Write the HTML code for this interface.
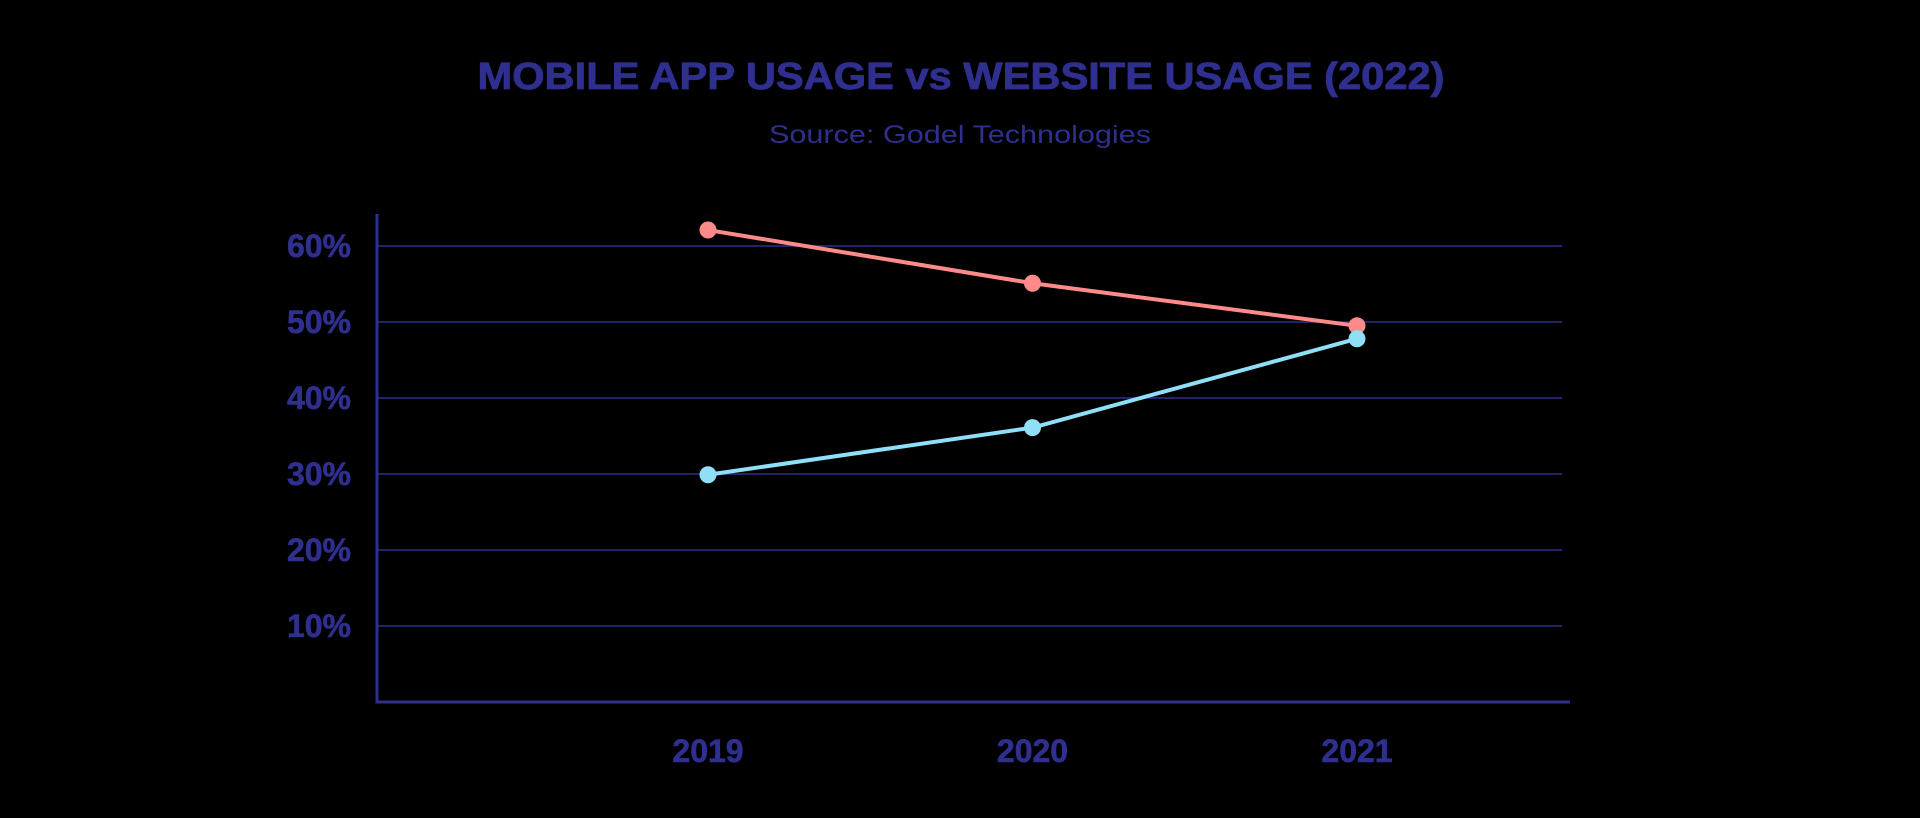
<!DOCTYPE html>
<html><head><meta charset="utf-8"><style>
html,body{margin:0;padding:0;background:#000;}
svg{display:block;}
text{font-family:"Liberation Sans",sans-serif;fill:#2f2f8f;}
</style></head><body>
<svg id="chart" width="1920" height="818" viewBox="0 0 1920 818" xmlns="http://www.w3.org/2000/svg">
<rect width="1920" height="818" fill="#000"/>
<text x="961" y="89" text-anchor="middle" font-size="38" font-weight="bold" textLength="967" lengthAdjust="spacingAndGlyphs" stroke="#2f2f8f" stroke-width="0.8">MOBILE APP USAGE vs WEBSITE USAGE (2022)</text>
<text x="960" y="143" text-anchor="middle" font-size="25" textLength="382" lengthAdjust="spacingAndGlyphs">Source: Godel Technologies</text>
<g id="grid"></g><g id="axes"></g><g id="series"></g>
</svg>
<script>
const categories = ["2019","2020","2021"];
const mobileApp = [62.1, 55.1, 49.5];
const website = [29.9, 36.1, 47.8];
const yTicks = [10,20,30,40,50,60];
const yTickLabels = ["10%","20%","30%","40%","50%","60%"];

const NS="http://www.w3.org/2000/svg";
const x0=377, x1=1570, yZero=702, pxPerUnit=7.6;
const xFirst=708, xLast=1357;
function xScale(i){return xFirst+(xLast-xFirst)*i/(categories.length-1);}
function yScale(v){return yZero-v*pxPerUnit;}
function mk(tag,attrs,parent){const e=document.createElementNS(NS,tag);for(const k in attrs)e.setAttribute(k,attrs[k]);parent.appendChild(e);return e;}
const grid=document.getElementById('grid'),axes=document.getElementById('axes'),series=document.getElementById('series');
yTicks.forEach((t,i)=>{
  const l=mk('line',{x1:x0,x2:1562,y1:yScale(t),y2:yScale(t),stroke:'#2f2f8f','stroke-width':1.6},grid);
  
  
  const tx=mk('text',{x:351,y:yScale(t)+11,'text-anchor':'end','font-size':32,'font-weight':'bold',stroke:'#2f2f8f','stroke-width':0.6},axes);
  tx.textContent=yTickLabels[i];
  
  
});
const ya=mk('line',{x1:x0,x2:x0,y1:214,y2:yZero+1.5,stroke:'#2f2f8f','stroke-width':3},axes);


const xa=mk('line',{x1:x0-1.5,x2:x1,y1:yZero,y2:yZero,stroke:'#2f2f8f','stroke-width':3},axes);


categories.forEach((c,i)=>{
  const tx=mk('text',{x:xScale(i),y:762,'text-anchor':'middle','font-size':32,'font-weight':'bold',stroke:'#2f2f8f','stroke-width':0.6},axes);
  tx.textContent=c;
  
  
});
function drawSeries(vals,color,name){
  const pts=vals.map((v,i)=>xScale(i)+','+yScale(v)).join(' ');
  const pl=mk('polyline',{points:pts,fill:'none',stroke:color,'stroke-width':4},series);
  
  
  vals.forEach((v,i)=>{
    const c=mk('circle',{cx:xScale(i),cy:yScale(v),r:8.5,fill:color},series);
    
    
  });
}
drawSeries(mobileApp,'#ff8a8a','mobile-app');
drawSeries(website,'#8fdff7','website');
</script>
</body></html>
